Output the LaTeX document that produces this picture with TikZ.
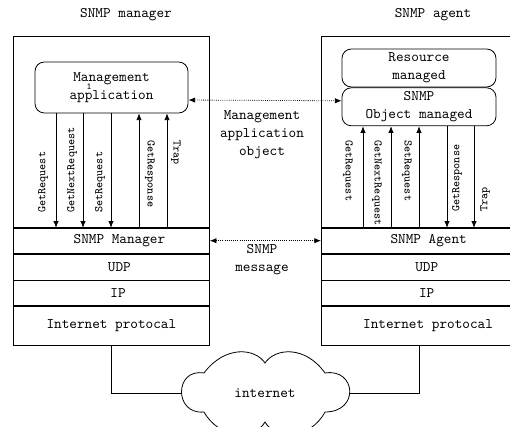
\documentclass[tikz,border=0pt]{standalone}
\usetikzlibrary{arrows.meta, positioning}

\tikzset{
  txt/.style={font=\ttfamily\fontsize{10.9}{13.5}\selectfont},
  panel/.style={draw, line width=0.6pt, minimum width=147pt, inner sep=0pt},
  layer/.style={panel, txt},
  rbox/.style={draw, line width=0.6pt, rounded corners=7pt, align=center, inner sep=0pt, txt},
  sig/.style={font=\ttfamily\fontsize{8.7}{10}\selectfont, inner sep=0pt, anchor=west},
  msg/.style={-{Latex[length=5pt,width=4pt]}, line width=0.6pt},
  dotlink/.style={{Latex[length=5pt,width=4pt]}-{Latex[length=5pt,width=4pt]}, densely dotted, line width=0.6pt},
}

\begin{document}
\begin{tikzpicture}[x=0.75pt, y=-0.75pt]
\useasboundingbox (0,0) rectangle (510,427);
\clip (0,0) rectangle (510,427);

% manager side
\node[txt] (mgrtitle) at (126,15) {SNMP manager};
\node[panel, minimum height=143.25pt, anchor=north west] (mgrbox) at (13,36) {};
\node[layer, minimum height=18.75pt, below=0pt of mgrbox] (mgrsnmp) {\hspace*{12pt}SNMP Manager};
\node[layer, minimum height=19.5pt, below=0pt of mgrsnmp] (mgrudp) {\hspace*{12pt}UDP};
\node[layer, minimum height=18.75pt, below=0pt of mgrudp] (mgrip) {\hspace*{10pt}IP};
\node[layer, minimum height=29.25pt, below=0pt of mgrip] (mgrinet) {Internet protocal};
\node[rbox, minimum width=114.75pt, minimum height=38.25pt] (mgrapp) at (111.5,87.5) {Management\\application};
\node[font=\ttfamily\fontsize{7}{7}\selectfont, inner sep=0pt] (appidx) at (89,86.5) {1};

% agent side
\node[txt] (agttitle) at (433,15) {SNMP agent};
\node[panel, minimum height=143.25pt, anchor=north west] (agtbox) at (321,36) {};
\node[layer, minimum height=18.75pt, below=0pt of agtbox] (agtsnmp) {\hspace*{14pt}SNMP Agent};
\node[layer, minimum height=19.5pt, below=0pt of agtsnmp] (agtudp) {\hspace*{11pt}UDP};
\node[layer, minimum height=18.75pt, below=0pt of agtudp] (agtip) {\hspace*{11pt}IP};
\node[layer, minimum height=29.25pt, below=0pt of agtip] (agtinet) {\hspace*{13pt}Internet protocal};
\node[rbox, minimum width=115.5pt, minimum height=28.5pt] (resbox) at (419,68) {Resource\\managed};
\node[rbox, minimum width=115.5pt, minimum height=28.5pt, below=0pt of resbox] (objbox) {SNMP\\Object managed};

% requests and replies
\foreach \x in {56,83,111}
  \draw[msg] (mgrapp.south -| \x,0) -- (mgrsnmp.north -| \x,0);
\foreach \x in {139,167}
  \draw[msg] (mgrsnmp.north -| \x,0) -- (mgrapp.south -| \x,0);
\foreach \x in {363,391,419}
  \draw[msg] (agtsnmp.north -| \x,0) -- (objbox.south -| \x,0);
\foreach \x in {447,474}
  \draw[msg] (objbox.south -| \x,0) -- (agtsnmp.north -| \x,0);

\node[sig, rotate=90] (mgrget) at (43,213) {GetRequest};
\node[sig, rotate=90] (mgrnext) at (72,213) {GetNextRequest};
\node[sig, rotate=90] (mgrset) at (100,213) {SetRequest};
\node[sig, rotate=-90] (mgrresp) at (150,140) {GetResponse};
\node[sig, rotate=-90] (mgrtrap) at (176,140) {Trap};

\node[sig, rotate=-90] (agtget) at (348,140) {GetRequest};
\node[sig, rotate=-90] (agtnext) at (377,140) {GetNextRequest};
\node[sig, rotate=-90] (agtset) at (407,140) {SetRequest};
\node[sig, rotate=90] (agtresp) at (457,212) {GetResponse};
\node[sig, rotate=90] (agttrap) at (485,212) {Trap};

% peer links
\draw[dotlink] ([yshift=-9.4pt]mgrapp.east) -- ([yshift=4.5pt]objbox.west);
\draw[dotlink] (mgrsnmp.east) -- (agtsnmp.west);
\node[txt, align=center] (objlbl) at (262,135) {Management\\application\\object};
\node[txt, align=center] (msglbl) at (262,260) {SNMP\\message};

% network cloud
\draw[line width=0.6pt] (204,373) .. controls (225,345) and (255,348) .. (265,363)
  .. controls (275,348) and (305,345) .. (325,373)
  .. controls (356,368) and (360,412) .. (325,412)
  .. controls (310,440) and (275,440) .. (265,422)
  .. controls (255,440) and (220,440) .. (204,412)
  .. controls (174,415) and (174,368) .. (204,373) -- cycle;
\node[txt] (inet) at (265,393) {internet};
\coordinate (cloudw) at (181.5,393);
\coordinate (cloude) at (349.5,393);
\draw[line width=0.6pt] (mgrinet.south) |- (cloudw);
\draw[line width=0.6pt] (agtinet.south) |- (cloude);
\end{tikzpicture}
\end{document}
